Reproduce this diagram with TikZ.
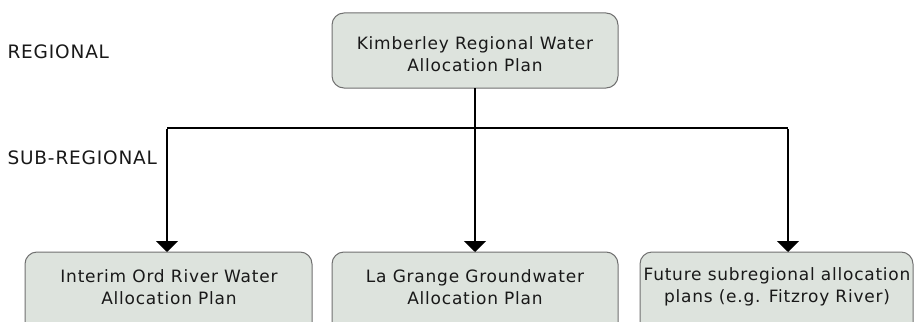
\documentclass[tikz,border=0pt]{standalone}
\usepackage{fontspec}
\setmainfont{DejaVu Sans}[Ligatures=NoCommon]
\newfontfamily\widefont{DejaVu Sans}[LetterSpace=4.5]
\usetikzlibrary{arrows.meta}
\definecolor{boxfill}{HTML}{DDE3DD}
\definecolor{boxline}{HTML}{707070}
\begin{document}
\begin{tikzpicture}[x=1pt,y=-1pt,
  planbox/.style={draw=boxline, line width=1pt, fill=boxfill, rounded corners=12pt},
  plantext/.style={align=center, font=\widefont\fontsize{17}{22.5}\selectfont, text=black!90},
  levellabel/.style={anchor=west, font=\widefont\fontsize{18.5}{20}\selectfont, text=black!90},
  link/.style={line width=2pt},
  arr/.style={line width=2pt, -{Triangle[width=22pt,length=11pt]}}]
\useasboundingbox (0,0) rectangle (917,321);
\clip (0,0) rectangle (917,321);
\fill[white] (0,0) rectangle (917,321);

\node[levellabel] (reg) at (4,52) {REGIONAL};
\node[levellabel] (sub) at (4,158) {SUB-REGIONAL};

\draw[planbox] (332,13) rectangle (618,88);
\node[plantext] (top) at (475,54) {Kimberley Regional Water\\Allocation Plan};

\draw[planbox] (25,252) rectangle (312,340);
\node[plantext] (b1) at (169,287) {Interim Ord River Water\\Allocation Plan};
\draw[planbox] (332,252) rectangle (618,340);
\node[plantext] (b2) at (475,287) {La Grange Groundwater\\Allocation Plan};
\draw[planbox] (640,252) rectangle (913,340);
\node[plantext] (b3) at (777,287) {Future subregional allocation\\plans (e.g. Fitzroy River)};

\coordinate (s) at (475,88);
\coordinate (j) at (475,128);
\coordinate (l) at (167,128);
\coordinate (r) at (788,128);
\coordinate (t1) at (167,252);
\coordinate (t2) at (475,252);
\coordinate (t3) at (788,252);

\draw[link] (s) -- (j);
\draw[link] (l) -- (r);
\draw[arr] ([yshift=-1pt]l) -- (t1);
\draw[arr] (j) -- (t2);
\draw[arr] ([yshift=-1pt]r) -- (t3);
\end{tikzpicture}
\end{document}
